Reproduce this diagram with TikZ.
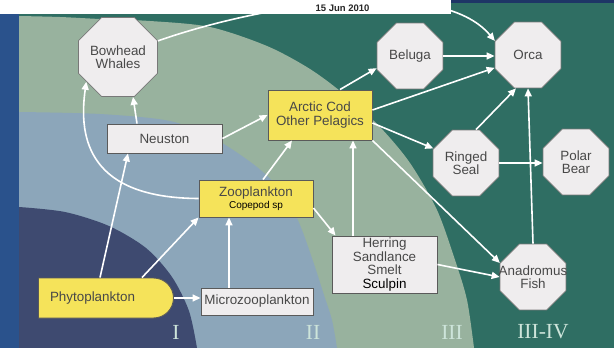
\documentclass[tikz,border=0pt]{standalone}
\usepackage{fontspec}
\setmainfont{Liberation Sans}
\newfontfamily\serifl{Liberation Serif}
\usetikzlibrary{shapes.misc,shapes.geometric,arrows.meta,calc}
\definecolor{bgteal}{RGB}{47,110,99}
\definecolor{zoneIII}{RGB}{152,178,158}
\definecolor{zoneII}{RGB}{140,166,186}
\definecolor{zoneI}{RGB}{62,74,112}
\definecolor{sidebar}{RGB}{42,82,140}
\definecolor{topblue}{RGB}{30,53,102}
\definecolor{boxfill}{RGB}{239,237,238}
\definecolor{yel}{RGB}{245,227,90}
\definecolor{edgegray}{RGB}{90,90,90}
\definecolor{octedge}{RGB}{120,120,120}
\definecolor{txtgray}{RGB}{72,72,72}
\definecolor{zonetxt}{RGB}{205,228,218}
\newcommand\mainfnt{\fontsize{13.4}{13.4}\selectfont}
\newcommand\zonefnt{\serifl\fontsize{21.5}{22}\selectfont}
\tikzset{
  oct/.style={regular polygon, regular polygon sides=8, draw=octedge, line width=0.8pt,
    fill=boxfill, minimum size=71.4pt, inner sep=0pt, align=center,
    font=\mainfnt, text=txtgray},
  rbox/.style={rectangle, draw=edgegray, line width=0.9pt, fill=boxfill, inner sep=0pt,
    align=center, font=\mainfnt, text=txtgray},
  ybox/.style={rbox, fill=yel},
  arr/.style={draw=white, line width=1.6pt, -{Triangle[length=8pt,width=7pt]}},
  zonelbl/.style={font=\zonefnt, text=zonetxt, inner sep=0pt},
}
\begin{document}
\begin{tikzpicture}[x=1pt,y=-1pt]
\useasboundingbox (0,0) rectangle (614,348);
% background zones
\fill[bgteal] (0,0) rectangle (614,348);
\fill[zoneIII] (19,348) -- plot[smooth] coordinates {(19,16) (60,17) (100,19) (150,21) (210,27) (267,46) (310,69) (345,95) (380,127) (410,163) (437,210) (455,260) (467,300) (474,348)} -- cycle;
\fill[zoneII] (19,348) -- plot[smooth] coordinates {(19,112) (100,114) (170,121) (215,139) (257,167) (285,195) (300,225) (313,261) (324,295) (332,320) (337,348)} -- cycle;
\fill[zoneI] (19,348) -- plot[smooth] coordinates {(19,207) (65,212) (109,226) (146,248) (172,277) (189,311) (197,348)} -- cycle;
\fill[sidebar] (0,0) rectangle (19,348);
% zone labels
\node[zonelbl] (l1) at (176,332) {I};
\node[zonelbl] (l2) at (313,332) {II};
\node[zonelbl] (l3) at (452,332) {III};
\node[zonelbl] (l4) at (543,332) {III-IV};
% nodes
\node[oct] (bow) at (118,57) {Bowhead\\Whales};
\node[oct] (bel) at (410,56) {Beluga};
\node[oct] (orca) at (528,55) {Orca};
\node[oct] (seal) at (466,163) {Ringed\\Seal};
\node[oct] (bear) at (576,162) {Polar\\Bear};
\node[oct] (fish) at (533,277) {\makebox[40pt]{Anadromus}\\Fish};
\node[ybox, minimum width=104pt, minimum height=50pt] (cod) at (320,115) {Arctic Cod\\Other Pelagics};
\node[rbox, minimum width=115pt, minimum height=29pt] (neu) at (164.5,138.5) {Neuston};
\node[ybox, minimum width=114pt, minimum height=37pt] (zoo) at (256,198.5) {Zooplankton\\[-1pt]{\fontsize{10}{10}\selectfont\color{black}Copepod sp}};
\node[rbox, minimum width=105pt, minimum height=57pt] (her) at (384.5,264.5) {Herring\\Sandlance\\Smelt\\{\color{black}Sculpin}};
\node[rbox, minimum width=112pt, minimum height=27pt] (micro) at (257,301.5) {Microzooplankton};
\node[rounded rectangle, rounded rectangle left arc=none, draw=edgegray, line width=0.9pt, fill=yel,
  minimum width=135pt, minimum height=40pt, inner sep=0pt, font=\mainfnt, text=txtgray] (phyto) at (105.5,298) {Phytoplankton\hspace*{26pt}};
% arrows
\draw[arr] ([xshift=-5.5pt]phyto.north) -- ([xshift=-36.5pt]neu.south);
\draw[arr] ([xshift=36.5pt]phyto.north) -- (zoo.south west);
\draw[arr] (phyto.east) -- (phyto.east -| micro.west);
\draw[arr] ([xshift=-28pt]micro.north) -- ([xshift=-28pt]micro.north |- zoo.south);
\draw[arr] ([xshift=7pt]zoo.north) -- ([xshift=-28pt]cod.south);
\draw[arr] (neu.east) -- (cod.west);
\draw[arr] ([yshift=-9.5pt]zoo.east) -- ([xshift=4pt]her.north west);
\draw[arr] ([xshift=-31.5pt]her.north) -- ([xshift=-31.5pt]her.north |- cod.south);
\draw[arr] ([yshift=-8pt]cod.east) -- (seal.156);
\draw[arr] (cod.south east) -- (fish.157);
\draw[arr] (her.east) -- (fish.west);
\draw[arr] (seal.east) -- (seal.east -| bear.west);
\draw[arr] ([xshift=10pt]seal.north) -- ([xshift=-12pt]orca.south);
\draw[arr] (fish.north) -- (orca.south);
\draw[arr] ([xshift=20pt]cod.north) -- (bel.200);
\draw[arr] ([yshift=5pt]cod.east) -- (orca.201);
\draw[arr] (bel.east) -- (bel.east -| orca.west);
\draw[arr] (bow.22) .. controls (260,5) and (440,-25) .. (orca.157);
\draw[arr] (zoo.west) .. controls (90,198) and (78,140) .. (bow.218);
\draw[arr] ([xshift=-27.5pt]neu.north) -- ([xshift=15pt]bow.south);
% header strip
\fill[white] (0,0) rectangle (451,14);
\fill[topblue] (451,0) rectangle (614,3);
\node[font=\bfseries\fontsize{9.5}{10}\selectfont, text=black!85, inner sep=0pt] (date) at (342.5,8.5) {15 Jun 2010};
\end{tikzpicture}
\end{document}
